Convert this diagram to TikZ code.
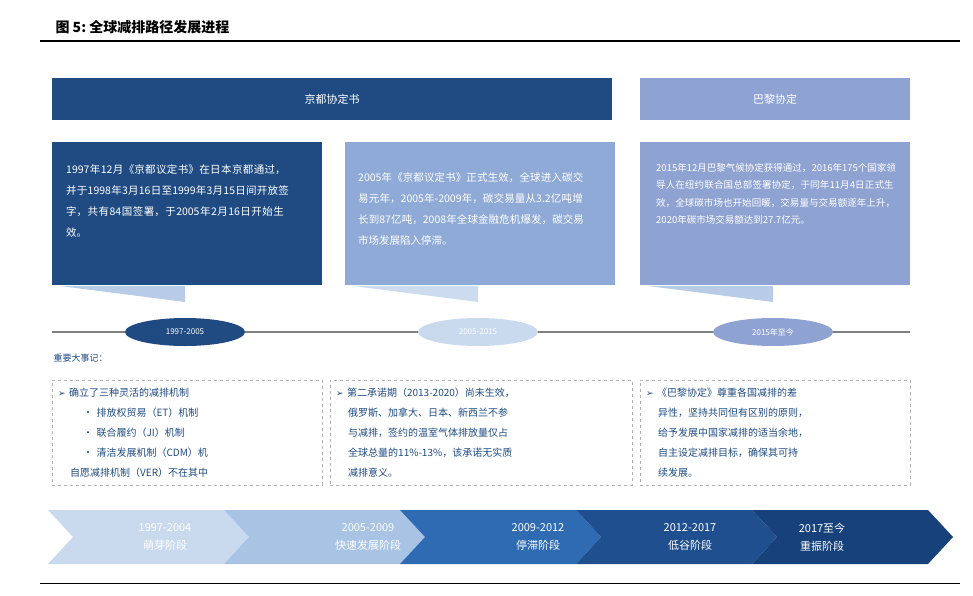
\documentclass[tikz,border=0pt]{standalone}
\usepackage{fontspec}
\setmainfont{Noto Sans CJK SC}
\newfontfamily\symf{DejaVu Sans}
\XeTeXlinebreaklocale "zh"
\XeTeXlinebreakskip=0pt plus 1pt
\usetikzlibrary{shapes.geometric}
\definecolor{dk}{HTML}{1F4B82}
\definecolor{lb}{HTML}{8FAAD6}
\definecolor{lp}{HTML}{8FA3D2}
\definecolor{tl}{HTML}{B8CCE8}
\definecolor{c1}{HTML}{C9DAEE}
\definecolor{c2}{HTML}{A9C3E5}
\definecolor{c3}{HTML}{2E6BB2}
\definecolor{c4}{HTML}{1F4F8E}
\definecolor{c5}{HTML}{17417A}
\newcommand\arr{{\symf\small ➢}}
\tikzset{x=1pt,y=-1pt,
 hdr/.style={anchor=north west,minimum height=42pt,text=white,font=\fontsize{11}{13}\selectfont,inner sep=0pt},
 card/.style={anchor=north west,minimum height=143pt,minimum width=270pt,inner sep=0pt},
 cardtxt/.style={anchor=north west,text=white,align=left,text width=228pt,inner sep=0pt,font=\fontsize{10.5}{21}\selectfont},
 yr/.style={ellipse,minimum width=120pt,minimum height=28pt,inner sep=0pt,text=white,font=\fontsize{8}{9}\selectfont},
 note/.style={anchor=north west,draw=gray!60,dashed,minimum height=105pt,inner sep=6pt,align=left,text=dk,font=\fontsize{10}{20}\selectfont},
 stage/.style={text=white,align=center,font=\fontsize{11}{18}\selectfont}}
\begin{document}
\begin{tikzpicture}
\useasboundingbox (0,0) rectangle (973,596);
\node[anchor=west,font=\bfseries\fontsize{14}{16}\selectfont] (title) at (52,27) {图 5:\ 全球减排路径发展进程};
\draw[line width=1.2pt] (40,41) -- (960,41);
\node[hdr,fill=dk,minimum width=560pt] (h1) at (52,78) {京都协定书};
\node[hdr,fill=lp,minimum width=270pt] (h2) at (640,78) {巴黎协定};
% tails
\fill[tl] (60,286) -- (185,286) -- (185,302) -- cycle;
\fill[tl!70!white] (353,286) -- (478,286) -- (478,302) -- cycle;
\fill[tl] (648,286) -- (773,286) -- (773,302) -- cycle;
\node[card,fill=dk] (b1) at (52,142) {};
\node[card,fill=lb] (b2) at (345,142) {};
\node[card,fill=lp] (b3) at (640,142) {};
\node[cardtxt] (t1) at (66,164) {1997年12月《京都议定书》在日本京都通过，并于1998年3月16日至1999年3月15日间开放签字，共有84国签署，于2005年2月16日开始生效。};
\node[cardtxt] (t2) at (358,172) {2005年《京都议定书》正式生效，全球进入碳交易元年，2005年-2009年，碳交易量从3.2亿吨增长到87亿吨，2008年全球金融危机爆发，碳交易市场发展陷入停滞。};
\node[cardtxt,font=\fontsize{9.5}{17.5}\selectfont,text width=240pt] (t3) at (656,163) {2015年12月巴黎气候协定获得通过，2016年175个国家领导人在纽约联合国总部签署协定，于同年11月4日正式生效，全球碳市场也开始回暖，交易量与交易额逐年上升，2020年碳市场交易额达到27.7亿元。};
\draw[gray,line width=2pt] (52,332) -- (910,332);
\node[yr,fill=dk] (e1) at (185,332) {1997-2005};
\node[yr,fill=c1] (e2) at (478,332) {2005-2015};
\node[yr,fill=lp] (e3) at (773,332) {2015年至今};
\node[anchor=west,text=dk,font=\fontsize{9}{10}\selectfont] (imp) at (50,358) {重要大事记：};
\node[note,minimum width=270pt,text width=258pt] (n1) at (52,380) {\arr\ 确立了三种灵活的减排机制\\
\hspace*{2.5em}•\ 排放权贸易（ET）机制\\
\hspace*{2.5em}•\ 联合履约（JI）机制\\
\hspace*{2.5em}•\ 清洁发展机制（CDM）机\\
\hspace*{1.2em}自愿减排机制（VER）不在其中};
\node[note,minimum width=302pt,text width=290pt] (n2) at (330,380) {\arr\ 第二承诺期（2013-2020）尚未生效，\\\hspace*{1.2em}俄罗斯、加拿大、日本、新西兰不参\\\hspace*{1.2em}与减排，签约的温室气体排放量仅占\\\hspace*{1.2em}全球总量的11\%-13\%，该承诺无实质\\\hspace*{1.2em}减排意义。};
\node[note,minimum width=270pt,text width=258pt] (n3) at (640,380) {\arr\ 《巴黎协定》尊重各国减排的差\\\hspace*{1.2em}异性，坚持共同但有区别的原则，\\\hspace*{1.2em}给予发展中国家减排的适当余地，\\\hspace*{1.2em}自主设定减排目标，确保其可持\\\hspace*{1.2em}续发展。};
% chevrons
\foreach \i/\c in {0/c1,1/c2,2/c3,3/c4,4/c5}{
  \pgfmathsetmacro{\xa}{48+\i*176}
  \fill[\c] (\xa,510) -- (\xa+176,510) -- (\xa+201,537) -- (\xa+176,564) -- (\xa,564) -- (\xa+25,537) -- cycle;
}
\node[stage] (s1) at (165,537) {1997-2004\\萌芽阶段};
\node[stage] (s2) at (368,537) {2005-2009\\快速发展阶段};
\node[stage] (s3) at (538,537) {2009-2012\\停滞阶段};
\node[stage] (s4) at (690,537) {2012-2017\\低谷阶段};
\node[stage] (s5) at (822,537) {2017至今\\重振阶段};
\draw[line width=0.8pt] (40,583) -- (960,583);
\end{tikzpicture}
\end{document}
